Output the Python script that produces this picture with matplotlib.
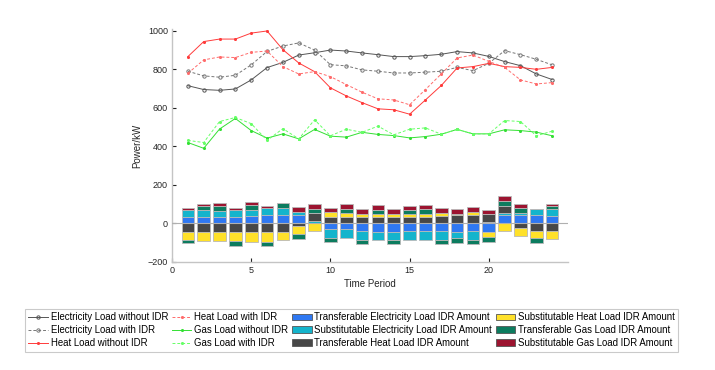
import numpy as np
import matplotlib
matplotlib.use("Agg")
import matplotlib.pyplot as plt
from matplotlib.patches import Patch
from matplotlib.lines import Line2D

plt.rcParams['font.family'] = ['Liberation Sans', 'DejaVu Sans']

hours = list(range(1, 25))

elec_without = [715, 695, 691, 698, 745, 809, 836, 874, 886, 900, 895, 885,
                876, 866, 866, 871, 878, 892, 885, 867, 840, 819, 776, 747]
elec_with = [790, 766, 759, 769, 823, 893, 921, 937, 900, 824, 818, 797,
             790, 781, 781, 785, 790, 810, 793, 831, 897, 876, 852, 823]
heat_without = [866, 944, 957, 957, 988, 999, 902, 833, 788, 704, 662, 627,
                595, 590, 567, 641, 716, 807, 814, 831, 814, 810, 800, 810]
heat_with = [779, 849, 864, 861, 888, 895, 814, 776, 788, 762, 721, 681,
             647, 641, 616, 695, 776, 859, 874, 841, 810, 745, 724, 731]
gas_without = [420, 390, 490, 545, 482, 443, 465, 439, 488, 453, 448, 473,
               462, 456, 444, 451, 463, 488, 465, 465, 486, 482, 474, 455]
gas_with = [431, 420, 529, 550, 518, 431, 492, 439, 538, 455, 489, 473,
            505, 460, 489, 496, 463, 488, 465, 465, 534, 529, 455, 479]

# IDR amounts (stacked bars)
trans_elec = [34, 34, 34, 34, 37, 42, 46, 46, 4, -30, -30, -39,
              -42, -42, -39, -39, -39, -42, -39, -42, 42, 42, 42, 37]
subs_elec = [36, 34, 31, 36, 34, 37, 36, 14, 8, -46, -46, -46,
             -42, -42, -46, -46, -46, -34, -46, 8, 12, 12, 34, 36]
trans_heat = [-42, -42, -42, -42, -46, -47, -42, -14, 44, 34, 34, 34,
              34, 34, 31, 34, 39, 42, 42, 42, 39, -22, -39, -39]
subs_heat = [-42, -51, -51, -47, -51, -49, -46, -41, -39, 25, 20, 17,
             17, 17, 20, 17, 17, 8, 17, -29, -39, -41, -37, -41]
trans_gas = [-20, 20, 25, -29, 25, -22, 25, -25, 20, -22, 22, -22,
             17, -22, 20, 22, -22, -25, -22, -24, 22, 25, -25, 20]
subs_gas = [9, 14, 15, 10, 14, 10, 0, 25, 25, 20, 24, 25,
            29, 22, 22, 25, 24, 25, 24, 22, 29, 24, 0, 7]

bar_series = [trans_elec, subs_elec, trans_heat, subs_heat, trans_gas, subs_gas]
bar_labels = ['Transferable Electricity Load IDR Amount',
              'Substitutable Electricity Load IDR Amount',
              'Transferable Heat Load IDR Amount',
              'Substitutable Heat Load IDR Amount',
              'Transferable Gas Load IDR Amount',
              'Substitutable Gas Load IDR Amount']
bar_colors = ['#2f78f2', '#14b4cc', '#474747', '#ffe12a', '#0c7c5f', '#9c1430']

fig = plt.figure(figsize=(7.15, 3.70), dpi=100)
ax = fig.add_axes([0.2406, 0.292, 0.5538, 0.63])

x = np.array(hours, dtype=float)
pos_base = np.zeros(len(hours))
neg_base = np.zeros(len(hours))
for vals, col in zip(bar_series, bar_colors):
    v = np.array(vals, dtype=float)
    bottoms = np.where(v >= 0, pos_base, neg_base)
    ax.bar(x, v, width=0.8, bottom=bottoms, color=col, edgecolor='#b9b9b9',
           linewidth=0.6, zorder=2)
    pos_base += np.where(v >= 0, v, 0)
    neg_base += np.where(v < 0, v, 0)

ax.axhline(0, color='#b0b0b0', lw=0.8, zorder=3)

lw = 0.7
line_specs = [
    (elec_without, '#555555', '-', 'o', 'Electricity Load without IDR'),
    (elec_with, '#777777', '--', 'o', 'Electricity Load with IDR'),
    (heat_without, '#ff3b3b', '-', '.', 'Heat Load without IDR'),
    (heat_with, '#ff6b6b', '--', '.', 'Heat Load with IDR'),
    (gas_without, '#33e033', '-', '.', 'Gas Load without IDR'),
    (gas_with, '#66ff66', '--', '.', 'Gas Load with IDR'),
]
line_handles = []
for vals, col, ls, mk, lab in line_specs:
    ms = 2.4 if mk == 'o' else 3.0
    kw = dict(color=col, linestyle=ls, linewidth=lw, marker=mk, markersize=ms,
              markerfacecolor='none' if mk == 'o' else col, markeredgecolor=col,
              markeredgewidth=0.7)
    if ls == '--':
        kw['dashes'] = (3, 2)
    ax.plot(hours, vals, zorder=4, **kw)
    line_handles.append(Line2D([], [], label=lab, **kw))

ax.set_xlim(0, 25)
ax.set_ylim(-200, 1010)
ax.set_xticks([0, 5, 10, 15, 20])
ax.set_yticks([-200, 0, 200, 400, 600, 800, 1000])
ax.tick_params(direction='in', length=3, width=0.8, color='#222222',
               labelsize=6.5, labelcolor='#262626', pad=3)
for s in ['top', 'right']:
    ax.spines[s].set_visible(False)
for s in ['left', 'bottom']:
    ax.spines[s].set_color('#c4c4c4')
    ax.spines[s].set_linewidth(1.0)
ax.set_xlabel('Time Period', fontsize=7, color='#262626', labelpad=3)
ax.set_ylabel('Power/kW', fontsize=7, color='#262626', labelpad=4)

patch_handles = [Patch(facecolor=c, edgecolor='#555555', linewidth=0.6, label=l)
                 for c, l in zip(bar_colors, bar_labels)]
handles = line_handles + patch_handles
leg = fig.legend(handles=handles, ncol=4, loc='upper center',
                 bbox_to_anchor=(0.492, 0.178), fontsize=6.95, frameon=True,
                 fancybox=False, edgecolor='#bdbdbd', handlelength=2.0,
                 handletextpad=0.3, columnspacing=0.4, labelspacing=0.3,
                 borderpad=0.35)
leg.get_frame().set_linewidth(0.8)

fig.savefig('out.png', dpi=100)
